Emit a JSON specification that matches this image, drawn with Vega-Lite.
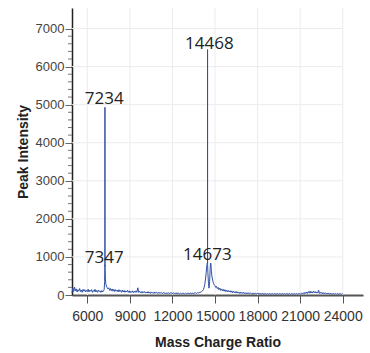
{
  "$schema": "https://vega.github.io/schema/vega-lite/v6.json",
  "width": 291,
  "height": 287,
  "autosize": {"type": "none"},
  "padding": {"left": 72, "top": 8, "right": 7, "bottom": 58},
  "background": "white",
  "config": {"view": {"stroke": null}, "font": "Liberation Sans"},
  "datasets": {
    "vgrid": [{"mz": 6000}, {"mz": 9000}, {"mz": 12000}, {"mz": 15000}, {"mz": 18000}, {"mz": 21000}, {"mz": 24000}],
    "hgrid": [{"i": 1000}, {"i": 2000}, {"i": 3000}, {"i": 4000}, {"i": 5000}, {"i": 6000}, {"i": 7000}],
    "minor": [{"i":200},{"i":400},{"i":600},{"i":800},{"i":1200},{"i":1400},{"i":1600},{"i":1800},{"i":2200},{"i":2400},{"i":2600},{"i":2800},{"i":3200},{"i":3400},{"i":3600},{"i":3800},{"i":4200},{"i":4400},{"i":4600},{"i":4800},{"i":5200},{"i":5400},{"i":5600},{"i":5800},{"i":6200},{"i":6400},{"i":6600},{"i":6800}],
    "labels": [
      {"text": "14468", "mz": 14597, "i": 6470},
      {"text": "7234", "mz": 7197, "i": 5010},
      {"text": "7347", "mz": 7197, "i": 833},
      {"text": "14673", "mz": 14456, "i": 920}
    ],
    "spectrum": [
      {"mz":4920,"i":60},{"mz":4980,"i":180},{"mz":5040,"i":90},{"mz":5100,"i":210},{"mz":5160,"i":110},{"mz":5220,"i":160},{"mz":5280,"i":80},{"mz":5340,"i":140},{"mz":5400,"i":100},{"mz":5460,"i":170},{"mz":5520,"i":90},{"mz":5580,"i":130},{"mz":5640,"i":70},{"mz":5700,"i":150},{"mz":5760,"i":100},{"mz":5820,"i":140},{"mz":5880,"i":80},{"mz":5940,"i":120},{"mz":6000,"i":90},{"mz":6060,"i":150},{"mz":6120,"i":80},{"mz":6180,"i":130},{"mz":6240,"i":100},{"mz":6300,"i":140},{"mz":6360,"i":70},{"mz":6420,"i":120},{"mz":6480,"i":90},{"mz":6540,"i":150},{"mz":6600,"i":80},{"mz":6660,"i":120},{"mz":6720,"i":70},{"mz":6780,"i":130},{"mz":6840,"i":90},{"mz":6900,"i":110},{"mz":6960,"i":70},{"mz":7020,"i":120},{"mz":7080,"i":80},{"mz":7140,"i":110},{"mz":7190,"i":150},{"mz":7220,"i":350},{"mz":7235,"i":790},{"mz":7241,"i":760},{"mz":7243,"i":4932},{"mz":7245,"i":780},{"mz":7255,"i":700},{"mz":7275,"i":420},{"mz":7300,"i":300},{"mz":7340,"i":240},{"mz":7390,"i":200},{"mz":7450,"i":160},{"mz":7510,"i":190},{"mz":7570,"i":120},{"mz":7630,"i":170},{"mz":7690,"i":110},{"mz":7750,"i":160},{"mz":7810,"i":100},{"mz":7870,"i":150},{"mz":7930,"i":90},{"mz":7990,"i":140},{"mz":8050,"i":100},{"mz":8110,"i":130},{"mz":8170,"i":80},{"mz":8230,"i":140},{"mz":8290,"i":90},{"mz":8350,"i":120},{"mz":8410,"i":70},{"mz":8470,"i":130},{"mz":8530,"i":80},{"mz":8590,"i":120},{"mz":8650,"i":70},{"mz":8710,"i":110},{"mz":8770,"i":80},{"mz":8830,"i":120},{"mz":8890,"i":70},{"mz":8950,"i":110},{"mz":9010,"i":60},{"mz":9070,"i":100},{"mz":9130,"i":70},{"mz":9190,"i":110},{"mz":9250,"i":60},{"mz":9310,"i":100},{"mz":9370,"i":70},{"mz":9430,"i":110},{"mz":9490,"i":70},{"mz":9560,"i":190},{"mz":9620,"i":70},{"mz":9680,"i":100},{"mz":9740,"i":60},{"mz":9800,"i":90},{"mz":9860,"i":50},{"mz":9920,"i":90},{"mz":9980,"i":60},{"mz":10040,"i":90},{"mz":10100,"i":50},{"mz":10160,"i":80},{"mz":10220,"i":50},{"mz":10280,"i":90},{"mz":10340,"i":50},{"mz":10400,"i":80},{"mz":10460,"i":40},{"mz":10520,"i":80},{"mz":10580,"i":50},{"mz":10640,"i":70},{"mz":10700,"i":40},{"mz":10760,"i":80},{"mz":10820,"i":50},{"mz":10880,"i":70},{"mz":10940,"i":40},{"mz":11000,"i":70},{"mz":11060,"i":40},{"mz":11120,"i":70},{"mz":11180,"i":40},{"mz":11240,"i":60},{"mz":11300,"i":40},{"mz":11360,"i":70},{"mz":11420,"i":40},{"mz":11480,"i":60},{"mz":11540,"i":30},{"mz":11600,"i":60},{"mz":11660,"i":40},{"mz":11720,"i":60},{"mz":11780,"i":30},{"mz":11840,"i":60},{"mz":11900,"i":40},{"mz":11960,"i":60},{"mz":12020,"i":30},{"mz":12080,"i":60},{"mz":12140,"i":40},{"mz":12200,"i":50},{"mz":12260,"i":30},{"mz":12320,"i":60},{"mz":12380,"i":30},{"mz":12440,"i":50},{"mz":12500,"i":30},{"mz":12560,"i":50},{"mz":12620,"i":30},{"mz":12680,"i":50},{"mz":12740,"i":30},{"mz":12800,"i":50},{"mz":12860,"i":30},{"mz":12920,"i":50},{"mz":12980,"i":30},{"mz":13040,"i":50},{"mz":13100,"i":30},{"mz":13160,"i":50},{"mz":13220,"i":30},{"mz":13280,"i":60},{"mz":13340,"i":30},{"mz":13400,"i":50},{"mz":13460,"i":30},{"mz":13520,"i":60},{"mz":13580,"i":40},{"mz":13640,"i":60},{"mz":13700,"i":40},{"mz":13760,"i":60},{"mz":13820,"i":50},{"mz":13880,"i":70},{"mz":13940,"i":60},{"mz":14000,"i":80},{"mz":14060,"i":90},{"mz":14120,"i":110},{"mz":14180,"i":140},{"mz":14230,"i":200},{"mz":14280,"i":280},{"mz":14330,"i":420},{"mz":14380,"i":600},{"mz":14420,"i":760},{"mz":14455,"i":840},{"mz":14470,"i":820},{"mz":14474,"i":6448},{"mz":14478,"i":800},{"mz":14500,"i":560},{"mz":14540,"i":300},{"mz":14580,"i":180},{"mz":14620,"i":350},{"mz":14660,"i":700},{"mz":14690,"i":840},{"mz":14710,"i":820},{"mz":14740,"i":650},{"mz":14780,"i":500},{"mz":14820,"i":420},{"mz":14860,"i":350},{"mz":14900,"i":300},{"mz":14950,"i":260},{"mz":15000,"i":240},{"mz":15050,"i":200},{"mz":15100,"i":230},{"mz":15160,"i":170},{"mz":15220,"i":200},{"mz":15280,"i":140},{"mz":15340,"i":180},{"mz":15400,"i":120},{"mz":15460,"i":160},{"mz":15520,"i":110},{"mz":15580,"i":150},{"mz":15640,"i":100},{"mz":15700,"i":140},{"mz":15760,"i":90},{"mz":15820,"i":130},{"mz":15880,"i":80},{"mz":15940,"i":120},{"mz":16000,"i":80},{"mz":16060,"i":110},{"mz":16120,"i":70},{"mz":16180,"i":110},{"mz":16240,"i":60},{"mz":16300,"i":100},{"mz":16360,"i":60},{"mz":16420,"i":90},{"mz":16480,"i":50},{"mz":16540,"i":90},{"mz":16600,"i":50},{"mz":16660,"i":80},{"mz":16720,"i":40},{"mz":16780,"i":80},{"mz":16840,"i":40},{"mz":16900,"i":70},{"mz":16960,"i":40},{"mz":17020,"i":70},{"mz":17080,"i":30},{"mz":17140,"i":60},{"mz":17200,"i":30},{"mz":17260,"i":60},{"mz":17320,"i":30},{"mz":17380,"i":60},{"mz":17440,"i":30},{"mz":17500,"i":50},{"mz":17560,"i":30},{"mz":17620,"i":50},{"mz":17680,"i":20},{"mz":17740,"i":50},{"mz":17800,"i":30},{"mz":17860,"i":50},{"mz":17920,"i":20},{"mz":17980,"i":50},{"mz":18040,"i":30},{"mz":18100,"i":50},{"mz":18160,"i":20},{"mz":18220,"i":40},{"mz":18280,"i":20},{"mz":18340,"i":50},{"mz":18400,"i":20},{"mz":18460,"i":40},{"mz":18520,"i":20},{"mz":18580,"i":40},{"mz":18640,"i":20},{"mz":18700,"i":40},{"mz":18760,"i":20},{"mz":18820,"i":40},{"mz":18880,"i":20},{"mz":18940,"i":40},{"mz":19000,"i":20},{"mz":19060,"i":40},{"mz":19120,"i":20},{"mz":19180,"i":40},{"mz":19240,"i":20},{"mz":19300,"i":40},{"mz":19360,"i":20},{"mz":19420,"i":40},{"mz":19480,"i":20},{"mz":19540,"i":40},{"mz":19600,"i":20},{"mz":19660,"i":40},{"mz":19720,"i":20},{"mz":19780,"i":40},{"mz":19840,"i":20},{"mz":19900,"i":40},{"mz":19960,"i":20},{"mz":20020,"i":40},{"mz":20080,"i":20},{"mz":20140,"i":40},{"mz":20200,"i":20},{"mz":20260,"i":40},{"mz":20320,"i":20},{"mz":20380,"i":40},{"mz":20440,"i":20},{"mz":20500,"i":40},{"mz":20560,"i":20},{"mz":20620,"i":40},{"mz":20680,"i":20},{"mz":20740,"i":40},{"mz":20800,"i":20},{"mz":20860,"i":40},{"mz":20920,"i":20},{"mz":20980,"i":40},{"mz":21040,"i":20},{"mz":21100,"i":50},{"mz":21160,"i":30},{"mz":21220,"i":60},{"mz":21280,"i":30},{"mz":21340,"i":70},{"mz":21400,"i":40},{"mz":21460,"i":80},{"mz":21520,"i":40},{"mz":21580,"i":90},{"mz":21640,"i":50},{"mz":21700,"i":100},{"mz":21760,"i":50},{"mz":21820,"i":90},{"mz":21880,"i":50},{"mz":21940,"i":100},{"mz":22000,"i":60},{"mz":22060,"i":90},{"mz":22120,"i":50},{"mz":22180,"i":80},{"mz":22240,"i":50},{"mz":22300,"i":130},{"mz":22360,"i":40},{"mz":22420,"i":70},{"mz":22480,"i":40},{"mz":22540,"i":70},{"mz":22600,"i":30},{"mz":22660,"i":60},{"mz":22720,"i":30},{"mz":22780,"i":60},{"mz":22840,"i":30},{"mz":22900,"i":50},{"mz":22960,"i":30},{"mz":23020,"i":50},{"mz":23080,"i":20},{"mz":23140,"i":50},{"mz":23200,"i":20},{"mz":23260,"i":40},{"mz":23320,"i":20},{"mz":23380,"i":40},{"mz":23440,"i":20},{"mz":23500,"i":40},{"mz":23560,"i":20},{"mz":23620,"i":40},{"mz":23680,"i":20},{"mz":23740,"i":40},{"mz":23800,"i":20},{"mz":23860,"i":40},{"mz":23920,"i":20},{"mz":24000,"i":30}
    ]
  },
  "layer": [
    {
      "data": {"name": "vgrid"},
      "mark": {"type": "rule", "color": "#ececec", "strokeWidth": 1},
      "encoding": {
        "x": {
          "field": "mz", "type": "quantitative",
          "scale": {"domain": [4920, 25430], "nice": false, "zero": false},
          "title": "Mass Charge Ratio",
          "axis": {
            "values": [6000, 9000, 12000, 15000, 18000, 21000, 24000],
            "format": "d", "grid": false, "labelOverlap": false,
            "domainColor": "#555", "domainWidth": 2,
            "tickColor": "#555", "tickSize": 8, "tickWidth": 1,
            "labelFontSize": 14, "labelColor": "#333", "labelPadding": 6,
            "titleFontSize": 14, "titleFontWeight": "bold", "titleColor": "#222", "titlePadding": 12
          }
        },
        "y": {"datum": 0, "type": "quantitative", "title": "Peak Intensity"},
        "y2": {"datum": 7540}
      }
    },
    {
      "data": {"name": "hgrid"},
      "mark": {"type": "rule", "color": "#ececec", "strokeWidth": 1},
      "encoding": {
        "y": {
          "field": "i", "type": "quantitative",
          "scale": {"domain": [0, 7540], "nice": false},
          "title": "Peak Intensity",
          "axis": {
            "values": [0, 1000, 2000, 3000, 4000, 5000, 6000, 7000],
            "format": "d",
            "labelOverlap": false,
            "grid": false,
            "domainColor": "#222", "domainWidth": 1.5,
            "tickColor": "#666", "tickSize": 7,
            "labelFontSize": 13, "labelColor": "#444", "labelPadding": 1,
            "titleFontSize": 14, "titleFontWeight": "bold", "titleColor": "#222", "titlePadding": 5
          }
        },
        "x": {"datum": 4920, "type": "quantitative", "title": "Mass Charge Ratio"},
        "x2": {"datum": 24000}
      }
    },
    {
      "data": {"name": "minor"},
      "mark": {"type": "rule", "color": "#777", "strokeWidth": 1},
      "encoding": {
        "y": {"field": "i", "type": "quantitative", "title": "Peak Intensity"},
        "x": {"datum": 4638, "type": "quantitative", "title": "Mass Charge Ratio"},
        "x2": {"datum": 4920}
      }
    },
    {
      "data": {"name": "spectrum"},
      "mark": {"type": "line", "color": "#2f50a6", "strokeWidth": 1},
      "encoding": {
        "x": {"field": "mz", "type": "quantitative", "title": "Mass Charge Ratio"},
        "y": {"field": "i", "type": "quantitative", "title": "Peak Intensity"}
      }
    },
    {
      "data": {"name": "labels"},
      "mark": {"type": "text", "font": "Open Sans", "fontSize": 17, "color": "#222", "align": "center", "baseline": "alphabetic"},
      "encoding": {
        "x": {"field": "mz", "type": "quantitative", "title": "Mass Charge Ratio"},
        "y": {"field": "i", "type": "quantitative", "title": "Peak Intensity"},
        "text": {"field": "text"}
      }
    }
  ]
}
